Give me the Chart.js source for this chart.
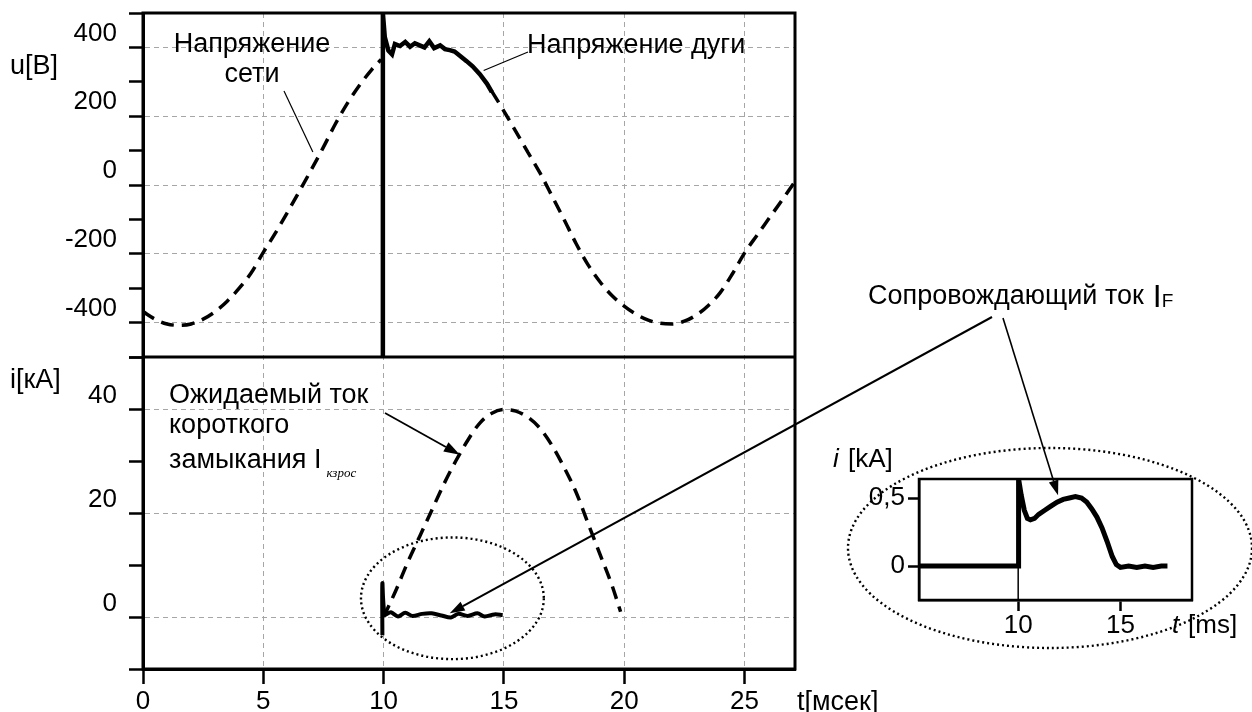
<!doctype html>
<html>
<head>
<meta charset="utf-8">
<title>Напряжение и ток</title>
<style>
  body { margin: 0; background: #fff; }
  #wrap { position: relative; width: 1252px; height: 712px; }
  #wrap canvas { position: absolute; left: 0; top: 0; }
  #insetChart { pointer-events: none; }
</style>
</head>
<body>
<div id="wrap">
  <canvas id="mainChart" width="1252" height="712"></canvas>
  <canvas id="insetChart" width="1252" height="712"></canvas>
</div>
<script src="https://cdn.jsdelivr.net/npm/chart.js@4.4.1/dist/chart.umd.min.js"></script>
<script>
// ---- data ----
// time axis [мсек]
const tTicks = [0, 5, 10, 15, 20, 25];

// upper panel, u[B]
const uTicks = [-500, -400, -300, -200, -100, 0, 100, 200, 300, 400, 500];
const uLabels = [-400, -200, 0, 200, 400];
// network voltage (dashed), part before the arc and part after it
const uNetT1 = [0, 0.5, 1, 1.5, 2, 2.5, 3, 3.5, 4, 4.5, 5, 5.5, 6, 6.5, 7, 7.5, 8, 8.5, 9, 9.5, 9.9];
const uNetV1 = [-368, -390, -404, -408, -404, -390, -368, -338, -300, -255, -196, -140, -80, -18, 45, 110, 178, 238, 290, 335, 365];
const uNetT2 = [14.5, 15, 15.5, 16, 16.5, 17, 17.5, 18, 18.5, 19, 19.5, 20, 20.5, 21, 21.5, 22, 22.5, 23, 23.5, 24, 24.5, 25, 25.5, 26, 26.5, 27, 27.1];
const uNetV2 = [272, 215, 155, 95, 35, -32, -100, -170, -232, -282, -322, -352, -376, -393, -402, -404, -396, -378, -350, -312, -258, -198, -148, -99, -50, 0, 10];
// arc voltage (solid)
const uArcT = [9.96, 9.97, 10.05, 10.2, 10.35, 10.47, 10.68, 10.9, 11.1, 11.3, 11.5, 11.7, 11.9, 12.1, 12.35, 12.55, 12.75, 12.95, 13.17, 13.45, 13.7, 14.0, 14.3, 14.5];
const uArcV = [-500, 500, 430, 391, 380, 410, 404, 416, 402, 412, 406, 400, 418, 398, 406, 395, 392, 388, 376, 360, 345, 322, 294, 270];

// lower panel, i[кА]
const iTicks = [-10, 0, 10, 20, 30, 40, 50];
const iLabels = [0, 20, 40];
// prospective short-circuit current (dashed)
const iProsT = [10, 10.5, 11, 11.5, 12, 12.5, 13, 13.5, 14, 14.5, 15, 15.5, 16, 16.5, 17, 17.5, 18, 18.5, 19, 19.5, 19.85];
const iProsV = [0, 5, 10.5, 15.5, 20.5, 25.5, 30, 34, 37.3, 39.2, 39.9, 39.6, 38.4, 36.3, 33, 28.8, 24, 18, 12, 6, 1];
// follow current (solid)
const iFolT = [9.95, 9.95, 10.05, 10.3, 10.6, 10.9, 11.2, 11.6, 12.0, 12.4, 12.8, 13.1, 13.5, 13.9, 14.2, 14.6, 14.95];
const iFolV = [-3.5, 6.5, 0.5, 0.9, 0.1, 0.8, 0.2, 0.6, 0.7, 0.3, -0.1, 0.6, 0.2, 0.7, 0.1, 0.5, 0.4];

// inset, i [kA] vs t [ms]
const insTTicks = [10, 15];
const insITicks = [0, 0.5];
const insT = [5.15, 10, 10.02, 10.15, 10.3, 10.45, 10.6, 10.8, 11.0, 11.3, 11.6, 11.9, 12.2, 12.5, 12.8, 13.1, 13.35, 13.6, 13.85, 14.1, 14.35, 14.6, 14.8, 15.0, 15.4, 15.8, 16.2, 16.6, 17.0, 17.3];
const insV = [0, 0, 0.64, 0.52, 0.41, 0.35, 0.34, 0.35, 0.38, 0.41, 0.44, 0.47, 0.49, 0.5, 0.51, 0.5, 0.47, 0.42, 0.36, 0.28, 0.18, 0.07, 0.01, -0.01, 0, -0.01, 0, -0.01, 0, 0];
const insMarkT = [10, 10];
const insMarkV = [-0.25, 0.64];

// ---- helpers ----
const FONT = '"Liberation Sans", Arial, sans-serif';
const NOTE = '27px ' + FONT;
const GRID = '#a6a6a6';
const NONE = 'rgba(0,0,0,0)';
Chart.defaults.font.family = FONT;
Chart.defaults.font.size = 26;
Chart.defaults.color = '#000';

function pts(xs, ys) {
  return xs.map(function (x, i) { return {x: x, y: ys[i]}; });
}
function setTicks(list) {
  return function (s) { s.ticks = list.map(function (v) { return {value: v}; }); };
}
function txt(ctx, s, x, y, font, align) {
  ctx.font = font || NOTE;
  ctx.textAlign = align || 'left';
  ctx.textBaseline = 'alphabetic';
  ctx.fillStyle = '#000';
  ctx.fillText(s, x, y);
  return ctx.measureText(s).width;
}
function line(ctx, x1, y1, x2, y2, w) {
  ctx.save();
  ctx.lineWidth = w;
  ctx.strokeStyle = '#000';
  ctx.beginPath(); ctx.moveTo(x1, y1); ctx.lineTo(x2, y2); ctx.stroke();
  ctx.restore();
}
function arrow(ctx, x1, y1, x2, y2, w, head) {
  const a = Math.atan2(y2 - y1, x2 - x1);
  const bx = x2 - head * Math.cos(a), by = y2 - head * Math.sin(a);
  const hw = head * 0.33;
  line(ctx, x1, y1, bx, by, w);
  ctx.save();
  ctx.fillStyle = '#000';
  ctx.beginPath();
  ctx.moveTo(x2, y2);
  ctx.lineTo(bx + hw * Math.sin(a), by - hw * Math.cos(a));
  ctx.lineTo(bx - hw * Math.sin(a), by + hw * Math.cos(a));
  ctx.closePath(); ctx.fill();
  ctx.restore();
}
function dottedEllipse(ctx, cx, cy, rx, ry) {
  ctx.save();
  ctx.lineWidth = 2.4;
  ctx.strokeStyle = '#000';
  ctx.setLineDash([2, 3]);
  ctx.beginPath();
  ctx.ellipse(cx, cy, rx, ry, 0, 0, Math.PI * 2);
  ctx.stroke();
  ctx.restore();
}

// ---- main chart ----
const mainDecor = {
  id: 'mainDecor',
  afterDraw: function (chart) {
    const ctx = chart.ctx;
    const a = chart.chartArea;
    const x = chart.scales.x, yU = chart.scales.yU, yI = chart.scales.yI;

    // frame and panel divider
    ctx.save();
    ctx.lineWidth = 3;
    ctx.strokeStyle = '#000';
    ctx.strokeRect(a.left, a.top, a.right - a.left, a.bottom - a.top);
    line(ctx, a.left, yU.bottom, a.right, yU.bottom, 3);
    ctx.restore();

    // axis names
    txt(ctx, 'u[B]', 10, 74);
    txt(ctx, 'i[кА]', 10, 388);
    txt(ctx, 't[мсек]', 797, 710);

    // upper panel notes
    txt(ctx, 'Напряжение', 252, 52, null, 'center');
    txt(ctx, 'сети', 252, 82, null, 'center');
    line(ctx, 284, 91, x.getPixelForValue(7.06), yU.getPixelForValue(96), 1.2);
    txt(ctx, 'Напряжение дуги', 527, 53);
    line(ctx, 528, 52, x.getPixelForValue(14.16), yU.getPixelForValue(333), 1.2);

    // lower panel notes
    txt(ctx, 'Ожидаемый ток', 169, 403);
    txt(ctx, 'короткого', 169, 433);
    const w = txt(ctx, 'замыкания I', 169, 468);
    txt(ctx, 'кзрос', 169 + w + 5, 477, 'italic 13px "Liberation Serif", "Times New Roman", serif');
    arrow(ctx, 385, 413, x.getPixelForValue(13.17), yI.getPixelForValue(31.2), 1.8, 16);

    // dotted ellipse round the follow current
    const cx = x.getPixelForValue(12.86), cy = yI.getPixelForValue(3.6);
    dottedEllipse(ctx, cx, cy,
      x.getPixelForValue(12.86 + 3.8) - cx,
      cy - yI.getPixelForValue(3.6 + 11.7));

    // connector to the inset label
    arrow(ctx, 992, 317, x.getPixelForValue(12.75), yI.getPixelForValue(0.7), 2, 15);
  }
};

new Chart(document.getElementById('mainChart'), {
  type: 'line',
  data: {
    datasets: [
      {
        label: 'Напряжение сети',
        yAxisID: 'yU',
        data: pts(uNetT1, uNetV1).concat([{x: 12, y: null}], pts(uNetT2, uNetV2)),
        borderColor: '#000', borderWidth: 3.5, borderDash: [13, 8],
        pointRadius: 0, cubicInterpolationMode: 'monotone', spanGaps: false
      },
      {
        label: 'Напряжение дуги',
        yAxisID: 'yU',
        data: pts(uArcT, uArcV),
        borderColor: '#000', borderWidth: 4.5, pointRadius: 0, tension: 0
      },
      {
        label: 'Ожидаемый ток',
        yAxisID: 'yI',
        data: pts(iProsT, iProsV),
        borderColor: '#000', borderWidth: 3.5, borderDash: [13, 8],
        pointRadius: 0, cubicInterpolationMode: 'monotone'
      },
      {
        label: 'Сопровождающий ток',
        yAxisID: 'yI',
        data: pts(iFolT, iFolV),
        borderColor: '#000', borderWidth: 4, pointRadius: 0, tension: 0.3
      }
    ]
  },
  options: {
    responsive: false,
    animation: false,
    devicePixelRatio: 1,
    layout: { padding: { top: 13, right: 457, bottom: 0, left: 0 } },
    plugins: { legend: { display: false }, tooltip: { enabled: false } },
    scales: {
      x: {
        type: 'linear', min: 0, max: 27.1,
        afterBuildTicks: setTicks(tTicks),
        ticks: { padding: 2, maxRotation: 0, autoSkip: false },
        grid: {
          color: function (c) { return c.tick && c.tick.value === 0 ? NONE : GRID; },
          lineWidth: 1, tickLength: 15, tickColor: '#000', tickWidth: 2.5
        },
        border: { color: '#000', width: 3, dash: [5, 4] },
        afterFit: function (s) { s.height = 43; s.paddingLeft = 0; s.paddingRight = 0; }
      },
      yI: {
        type: 'linear', min: -10, max: 50, position: 'left',
        stack: 'panels', stackWeight: 312,
        afterBuildTicks: setTicks(iTicks),
        ticks: {
          padding: 12, labelOffset: -13, autoSkip: false,
          callback: function (v) { return iLabels.includes(v) ? String(v) : ''; }
        },
        grid: {
          color: function (c) { return c.tick && iLabels.includes(c.tick.value) ? GRID : NONE; },
          lineWidth: 1, tickLength: 14, tickColor: '#000', tickWidth: 2.5
        },
        border: { color: '#000', width: 3, dash: [5, 4] },
        afterFit: function (s) { s.width = 143; s.paddingTop = 0; s.paddingBottom = 0; }
      },
      yU: {
        type: 'linear', min: -500, max: 500, position: 'left',
        stack: 'panels', stackWeight: 344,
        afterBuildTicks: setTicks(uTicks),
        ticks: {
          padding: 12, labelOffset: -14, autoSkip: false,
          callback: function (v) { return uLabels.includes(v) ? String(v) : ''; }
        },
        grid: {
          color: function (c) { return c.tick && uLabels.includes(c.tick.value) ? GRID : NONE; },
          lineWidth: 1, tickLength: 14, tickColor: '#000', tickWidth: 2.5
        },
        border: { color: '#000', width: 3, dash: [5, 4] },
        afterFit: function (s) { s.width = 143; s.paddingTop = 0; s.paddingBottom = 0; }
      }
    }
  },
  plugins: [mainDecor]
});

// ---- inset chart ----
const insetDecor = {
  id: 'insetDecor',
  beforeDraw: function (chart) {
    dottedEllipse(chart.ctx, 1050, 548, 202, 100);
  },
  afterDraw: function (chart) {
    const ctx = chart.ctx;
    const a = chart.chartArea;
    const x = chart.scales.x, y = chart.scales.y;
    ctx.save();
    ctx.lineWidth = 2.5;
    ctx.strokeStyle = '#000';
    ctx.strokeRect(a.left, a.top, a.right - a.left, a.bottom - a.top);
    ctx.restore();

    txt(ctx, 'i', 833, 467, 'italic 26px ' + FONT);
    txt(ctx, '[kA]', 848, 467, '26px ' + FONT);
    txt(ctx, 't', 1172, 633, 'italic 26px ' + FONT);
    txt(ctx, '[ms]', 1188, 633, '26px ' + FONT);

    const w = txt(ctx, 'Сопровождающий ток', 868, 304);
    txt(ctx, 'I', 868 + w + 9, 307, '32px ' + FONT);
    txt(ctx, 'F', 868 + w + 18, 307, '19px ' + FONT);

    arrow(ctx, 1003, 318, x.getPixelForValue(11.95), y.getPixelForValue(0.52), 1.6, 15);
  }
};

new Chart(document.getElementById('insetChart'), {
  type: 'line',
  data: {
    datasets: [
      {
        label: 'i',
        data: pts(insT, insV),
        borderColor: '#000', borderWidth: 5, pointRadius: 0, tension: 0
      },
      {
        label: 'mark',
        data: pts(insMarkT, insMarkV),
        borderColor: '#000', borderWidth: 1.5, pointRadius: 0
      }
    ]
  },
  options: {
    responsive: false,
    animation: false,
    devicePixelRatio: 1,
    layout: { padding: { top: 479, right: 60, bottom: 72, left: 819 } },
    plugins: { legend: { display: false }, tooltip: { enabled: false } },
    scales: {
      x: {
        type: 'linear', min: 5.15, max: 18.5,
        afterBuildTicks: setTicks(insTTicks),
        ticks: { padding: -1, maxRotation: 0, autoSkip: false },
        grid: { drawOnChartArea: false, tickLength: 11, tickColor: '#000', tickWidth: 2.5 },
        border: { color: '#000', width: 2.5 },
        afterFit: function (s) { s.height = 40; s.paddingLeft = 0; s.paddingRight = 0; }
      },
      y: {
        type: 'linear', min: -0.25, max: 0.64,
        afterBuildTicks: setTicks(insITicks),
        ticks: {
          padding: 3, autoSkip: false,
          callback: function (v) { return String(v).replace('.', ','); }
        },
        grid: { drawOnChartArea: false, tickLength: 11, tickColor: '#000', tickWidth: 2.5 },
        border: { color: '#000', width: 2.5 },
        afterFit: function (s) { s.width = 100; s.paddingTop = 0; s.paddingBottom = 0; }
      }
    }
  },
  plugins: [insetDecor]
});
</script>
</body>
</html>
